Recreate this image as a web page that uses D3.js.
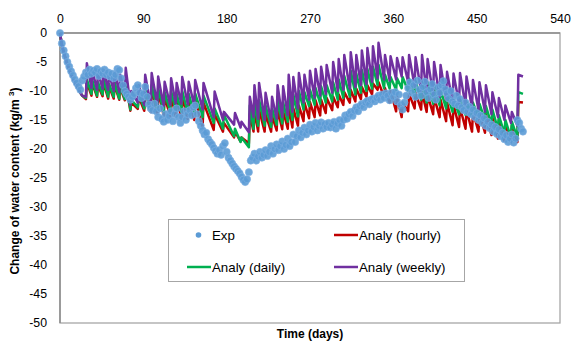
<!DOCTYPE html>
<html>
<head>
<meta charset="utf-8">
<script src="https://cdn.jsdelivr.net/npm/d3@7"></script>
<style>
body { margin: 0; background: #fff; }
text { font-family: "Liberation Sans", Arial, sans-serif; fill: #000; }
.tick-label { font-size: 12.3px; }
.axis-title { font-size: 12px; font-weight: bold; }
.legend-label { font-size: 13.3px; }
</style>
</head>
<body>
<div id="chart"></div>
<script>

// ticks
var xTicks = [0, 90, 180, 270, 360, 450, 540];
var yTicks = [0, -5, -10, -15, -20, -25, -30, -35, -40, -45, -50];

// first drying period, shared by the three analytical curves
var startDays = [0, 2, 4, 6, 8, 10, 12, 14, 16, 18, 20, 22, 24];
var startVals = [0, -2, -3.3, -4.4, -5.4, -6.3, -7.1, -7.8, -8.5, -9.1, -9.7, -10.3, -10.8];

// wetting events (days), trough before the event and peak right after
var spikeDays = [28, 34, 40, 46, 52, 58, 64, 70, 76, 84, 91, 98, 105, 112, 119, 125, 131, 138, 145, 154,
	166, 176, 188, 195, 204, 209, 214, 221, 228, 234, 240, 246, 251, 257, 263, 269, 275, 281, 287, 294,
	300, 306, 313, 319, 325, 331, 337, 343, 350, 356, 363, 369, 376, 383, 390, 396, 403, 410, 417, 424,
	431, 438, 445, 452, 459, 466, 473, 480, 487, 494];

var weeklyTrough = [-11, -9.5, -9.8, -9.6, -9.8, -10, -10.2, -10.4, -12.4, -12, -12.4, -12.6, -12.3, -12.6, -12.4, -12.2, -12.2, -12.3, -12.5, -13.2,
	-14.5, -15, -15.8, -16.3, -17.1, -14.5, -14.8, -15, -15.2, -14.8, -14.5, -14.2, -13.6, -13, -12, -11.5, -11.2, -10.8, -10.5, -10.3,
	-10, -9.8, -9.6, -9.3, -9, -8.8, -8.4, -7.8, -8, -8.2, -8, -7.5, -8.5, -9.2, -10, -10.2, -10.6, -11, -11.5, -11.9,
	-12.2, -12.6, -13, -13.3, -13.6, -14, -14.5, -15, -15.5, -16];
var weeklyPeak = [-5.2, -6.5, -6.8, -6.4, -7, -6.8, -7.2, -6, -10, -9, -7.2, -6.9, -7.5, -8.4, -7.8, -8.6, -7.6, -8.4, -8.1, -8.6,
	-10.1, -13.6, -13.8, -15.3, -11, -9, -8.6, -10.3, -11, -9, -9.2, -7.2, -7.6, -6.9, -7.2, -6.5, -6.2, -5.8, -5.5, -5,
	-4.5, -3.8, -3.3, -3.8, -3, -2.6, -2.3, -1.7, -3.8, -4, -4.3, -4.2, -3.8, -4.2, -3.8, -4.5, -5, -5.5, -6.7, -7,
	-6.9, -7.5, -8.1, -8.5, -9, -10.2, -11.2, -12.5, -13.6, -7.2];

var dailyTrough = [-11.2, -10.5, -10.8, -10.6, -11, -11, -11.3, -11.4, -13.2, -12.8, -13, -13.2, -13.3, -13.6, -13.5, -13.4, -13.6, -13.8, -14, -14.5,
	-15.5, -16.5, -17.8, -18.8, -19.7, -16.5, -16, -16, -16.2, -15.8, -15.6, -15.3, -15, -14.4, -13.2, -12.6, -12.4, -12.2, -12, -11.8,
	-11.5, -11.2, -11, -10.6, -10.3, -10, -9.6, -9, -9.5, -9.6, -9.8, -9.5, -10, -10.8, -11.5, -12, -12.2, -12.5, -13, -13.6,
	-14, -14.1, -14.3, -14.6, -15, -15.8, -16.6, -17.4, -18, -18.1];
var dailyPeak = [-8, -8.2, -8.5, -8, -8.8, -8.5, -9, -8, -11.5, -10.5, -9.5, -9, -9.5, -10.2, -10, -10.5, -10, -10.5, -10.4, -10.8,
	-13, -14.1, -16.5, -18, -12.5, -11.8, -11.5, -12.5, -13, -11.5, -12, -10.5, -10.6, -10, -10.2, -9.8, -9.5, -9.2, -9, -8.5,
	-8, -7.4, -6.5, -7, -6.4, -6.2, -5.8, -5.5, -7.2, -7.6, -7.8, -7.6, -7.9, -8.3, -8.5, -8.5, -9, -9.8, -10.5, -11.5,
	-11.5, -11.9, -12, -12.2, -12.6, -13.2, -14.2, -15, -15.3, -10.2];

var hourlyTrough = [-11.4, -10.8, -11, -10.9, -11.3, -11.3, -11.5, -11.6, -13.4, -13.1, -13.4, -13.6, -13.8, -14.2, -14.3, -14.4, -14.6, -14.8, -15, -16.2,
	-16.7, -17, -18, -18.7, -19, -17, -17, -17, -17, -16.8, -16.6, -16.5, -16.3, -16, -15.2, -14.7, -14.5, -14.2, -13.8, -13.3,
	-12.8, -12.4, -12, -11.8, -11.4, -11, -10.6, -9.8, -11, -12, -13.5, -14.5, -13.5, -13, -13.2, -13.6, -14, -14.5, -15.2, -15.9,
	-16.2, -16.5, -17, -17, -17.2, -17.6, -18.2, -18.6, -18.8, -18.8];
var hourlyPeak = [-8.5, -8.7, -9, -8.5, -9.2, -9, -9.4, -8.6, -12, -11, -10, -9.6, -10.2, -11, -10.8, -11.2, -11, -11.4, -11.5, -12,
	-14, -15.5, -17, -18, -14, -13.5, -13.2, -14, -14.3, -13.2, -13.5, -12.8, -13, -12.5, -12, -11.9, -11.6, -11.5, -11.2, -11,
	-10.6, -10.2, -9.8, -9.6, -9.3, -9, -8.7, -8.5, -9.5, -10, -11, -12, -10.5, -10.3, -10.2, -10.7, -11, -11.5, -12, -12.4,
	-12.8, -13.2, -13.6, -13.8, -14, -14.6, -15, -15.5, -16, -11.9];

var endDay = 500;
var weeklyEnd = -7.5, dailyEnd = -10.5, hourlyEnd = -12;

// measured points, one every two days from day 0 to day 500
var expVals = [0, -1.8, -3, -4, -5, -5.8, -6.6, -7.3, -8, -8.6, -9.2, -9.8, -8.2, -7.5, -6.8, -7.2, -6.3, -7, -6.5, -6.8,
	-6.2, -7.4, -6.6, -7, -6.3, -7.2, -6.8, -7.5, -7, -7.8, -7.2, -6.2, -6.4, -7.8, -9, -10, -10.5, -11, -11.5, -11,
	-10.5, -9.5, -9, -10.3, -11.2, -10.5, -9.3, -11, -12.3, -13, -13.3, -12.2, -13.5, -14.5, -13, -14.8, -15.3, -14, -15, -14.3,
	-13.5, -15.2, -14, -13, -14.5, -15.5, -14.5, -13.5, -15, -14, -13.3, -14.2, -12.8, -12.5, -14, -15.2, -16, -16.8, -17.5, -17.2,
	-18.3, -18.8, -19.2, -19.8, -20.3, -20.8, -20.2, -21, -19.5, -19, -20.5, -21.5, -22, -22.5, -23, -23.4, -23.8, -24.2, -24.8, -25.3,
	-25.7, -25.2, -24, -22, -21.5, -20.8, -22, -21.3, -20.5, -21.5, -21, -20.2, -21.2, -20.5, -19.5, -20.8, -20, -19.2, -20.2, -19.5,
	-18.7, -20, -19.3, -18.2, -19.5, -18.8, -17.5, -18.8, -17.8, -16.8, -18, -17.2, -16.3, -17.5, -16.8, -15.8, -17, -16.2, -15.5, -16.8,
	-16, -15.4, -16.5, -15.7, -16.2, -15.5, -16.3, -15.8, -15.3, -16.5, -15.6, -15, -16, -15, -14.2, -14.8, -14, -13.6, -14.3, -13.4,
	-12.8, -13.5, -12.6, -12.2, -12.8, -12, -11.7, -12.3, -11.5, -11.3, -11.8, -11.2, -10.8, -11.5, -10.6, -11.2, -10.4, -10.8, -11.6, -10.3,
	-11, -10.2, -11.8, -10.6, -12.4, -13.2, -12, -10.8, -9.5, -8.5, -10.3, -9, -11, -8.2, -9.8, -10.8, -9.3, -8.4, -10.2, -11.2,
	-9.7, -8.8, -10.6, -11.5, -9.4, -10.3, -9, -8.3, -9.7, -10.4, -11.3, -10, -11.8, -12.2, -10.8, -12.5, -11.4, -12.8, -13.3, -12,
	-13.6, -12.7, -14, -13.2, -14.5, -13.8, -15, -14.2, -15.5, -14.7, -16, -15.3, -16.4, -15.8, -17, -16.2, -17.4, -16.6, -17.8, -17.2,
	-18.3, -17.6, -18.8, -18.2, -17.5, -18.9, -18.2, -15, -15.5, -16.5, -17];

var seriesNames = ["Exp", "Analy (hourly)", "Analy (daily)", "Analy (weekly)"];
var seriesColors = ["#5b9bd5", "#c00000", "#00b050", "#7030a0"];

var W = 571, H = 345;
var margin = {top: 33, right: 11, bottom: 22, left: 60};

var x = d3.scaleLinear().domain([0, 540]).range([margin.left, W - margin.right]);
var y = d3.scaleLinear().domain([-50, 0]).range([H - margin.bottom, margin.top]);

var svg = d3.select("#chart").append("svg")
	.attr("width", W)
	.attr("height", H);

function buildCurve(trough, peak, endVal) {
	var pts = [];
	for (var i = 0; i < startDays.length; i++) {
		pts.push([startDays[i], startVals[i]]);
	}
	for (var j = 0; j < spikeDays.length; j++) {
		pts.push([spikeDays[j], trough[j]]);
		pts.push([spikeDays[j] + 1, peak[j]]);
	}
	pts.push([endDay, endVal]);
	return pts;
}

function addFrame(svg) {
	svg.append("rect")
	.attr("x", x(0))
	.attr("y", y(0))
	.attr("width", x(540) - x(0))
	.attr("height", y(-50) - y(0))
	.attr("fill", "none")
	.attr("stroke", "#a6a6a6")
	.attr("stroke-width", 1.3);
	// axis lines drawn a bit darker
	svg.append("line")
	.attr("x1", x(0)).attr("x2", x(540))
	.attr("y1", y(0)).attr("y2", y(0))
	.attr("stroke", "#8c8c8c").attr("stroke-width", 1.5);
	svg.append("line")
	.attr("x1", x(0)).attr("x2", x(0))
	.attr("y1", y(0)).attr("y2", y(-50))
	.attr("stroke", "#8c8c8c").attr("stroke-width", 1.5);
}

// plain hyphen for negatives, like the original
function fmt(d) { return String(d); }

function addAxes(svg) {
	var xAxis = d3.axisTop(x).tickValues(xTicks).tickFormat(fmt).tickSize(0).tickPadding(10);
	var gx = svg.append("g")
	.attr("transform", "translate(0," + y(0) + ")")
	.call(xAxis);
	gx.select(".domain").remove();
	gx.selectAll("text").attr("class", "tick-label").attr("font-family", null).attr("font-size", null);

	var yAxis = d3.axisLeft(y).tickValues(yTicks).tickFormat(fmt).tickSize(0).tickPadding(13);
	var gy = svg.append("g")
	.attr("transform", "translate(" + x(0) + ",0)")
	.call(yAxis);
	gy.select(".domain").remove();
	gy.selectAll("text").attr("class", "tick-label").attr("font-family", null).attr("font-size", null);

	svg.append("text")
	.attr("class", "axis-title")
	.attr("x", (x(0) + x(540)) / 2)
	.attr("y", 338)
	.attr("text-anchor", "middle")
	.text("Time (days)");

	var yt = svg.append("text")
	.attr("class", "axis-title")
	.attr("transform", "translate(19," + (y(-25) + 3) + ") rotate(-90)")
	.attr("text-anchor", "middle");
	yt.append("tspan").text("Change of water content (kg/m ");
	yt.append("tspan").attr("dy", -5).attr("font-size", "8px").text("3");
	yt.append("tspan").attr("dy", 5).text(")");
}

function addLines(svg) {
	var line = d3.line()
	.x(function(d) { return x(d[0]); })
	.y(function(d) { return y(d[1]); });

	var curves = [
		{data: buildCurve(hourlyTrough, hourlyPeak, hourlyEnd), color: seriesColors[1]},
		{data: buildCurve(dailyTrough, dailyPeak, dailyEnd), color: seriesColors[2]},
		{data: buildCurve(weeklyTrough, weeklyPeak, weeklyEnd), color: seriesColors[3]}
	];

	svg.selectAll(".curve")
	.data(curves).enter()
	.append("path")
	.attr("class", "curve")
	.attr("d", function(d) { return line(d.data); })
	.attr("fill", "none")
	.attr("stroke", function(d) { return d.color; })
	.attr("stroke-width", 2.5)
	.attr("stroke-linejoin", "round");
}

function addDots(svg) {
	svg.selectAll(".exp-point")
	.data(expVals).enter()
	.append("circle")
	.attr("class", "exp-point")
	.attr("cx", function(d, i) { return x(i * 2); })
	.attr("cy", function(d) { return y(d); })
	.attr("r", 3.6)
	.attr("fill", seriesColors[0])
	.attr("fill-opacity", 0.9)
	.attr("stroke", "#7fb0e3")
	.attr("stroke-width", 0.6);
}

function addLegend(svg) {
	var lg = svg.append("g");
	lg.append("rect")
	.attr("x", 168.5).attr("y", 219.5)
	.attr("width", 296).attr("height", 62)
	.attr("fill", "#fff")
	.attr("stroke", "#a6a6a6");

	var items = [
		{name: seriesNames[0], color: seriesColors[0], dot: true, lx: 187, ly: 235},
		{name: seriesNames[1], color: seriesColors[1], dot: false, lx: 334, ly: 235},
		{name: seriesNames[2], color: seriesColors[2], dot: false, lx: 187, ly: 267},
		{name: seriesNames[3], color: seriesColors[3], dot: false, lx: 334, ly: 267}
	];

	items.forEach(function(it) {
		if (it.dot) {
			lg.append("circle")
			.attr("cx", it.lx + 11.5).attr("cy", it.ly)
			.attr("r", 2.8)
			.attr("fill", it.color);
		} else {
			lg.append("line")
			.attr("x1", it.lx).attr("x2", it.lx + 24)
			.attr("y1", it.ly).attr("y2", it.ly)
			.attr("stroke", it.color)
			.attr("stroke-width", 2.5);
		}
		lg.append("text")
		.attr("class", "legend-label")
		.attr("x", it.lx + 25)
		.attr("y", it.ly + 4.5)
		.text(it.name);
	});
}

addFrame(svg);
addLines(svg);
addDots(svg);
addAxes(svg);
addLegend(svg);

</script>
</body>
</html>
